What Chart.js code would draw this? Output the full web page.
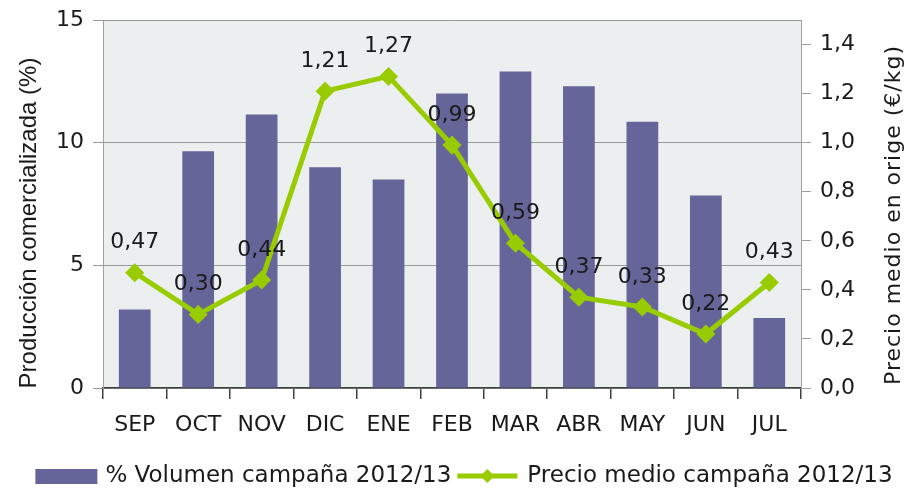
<!DOCTYPE html>
<html>
<head>
<meta charset="utf-8">
<script src="https://cdn.jsdelivr.net/npm/chart.js@4.4.0/dist/chart.umd.min.js"></script>
<style>
  html, body { margin: 0; padding: 0; background: #fff; }
  #wrap { width: 912px; height: 491px; }
</style>
</head>
<body>
<div id="wrap"><canvas id="chart" width="912" height="491"></canvas></div>
<script>
// Datos
const months = ['SEP', 'OCT', 'NOV', 'DIC', 'ENE', 'FEB', 'MAR', 'ABR', 'MAY', 'JUN', 'JUL'];
const volumen = [3.2, 9.65, 11.15, 9.0, 8.5, 12.0, 12.9, 12.3, 10.85, 7.85, 2.85];
const precio = [0.47, 0.30, 0.44, 1.21, 1.27, 0.99, 0.59, 0.37, 0.33, 0.22, 0.43];
const volumenLabel = '% Volumen campaña 2012/13';
const precioLabel = 'Precio medio campaña 2012/13';
const leftTitle = 'Producción comercializada (%)';
const rightTitle = 'Precio medio en orige (€/kg)';

const FONT = 'DejaVu Sans';
const TEXT = '#1a1a1a';
const BAR_COLOR = '#65659a';
const LINE_COLOR = '#99cc00';
const fmt = (v, d) => v.toFixed(d).replace('.', ',');

// Fondo del área de trazado
const plotBg = {
    id: 'plotBg',
    beforeDraw(chart) {
        const a = chart.chartArea;
        const ctx = chart.ctx;
        ctx.save();
        ctx.fillStyle = '#eceff0';
        ctx.fillRect(a.left, a.top, a.right - a.left, a.bottom - a.top);
        ctx.restore();
    }
};

// Etiquetas de precio sobre los puntos
const priceLabels = {
    id: 'priceLabels',
    afterDatasetsDraw(chart) {
        const meta = chart.getDatasetMeta(1);
        const ctx = chart.ctx;
        ctx.save();
        ctx.font = '22px "' + FONT + '"';
        ctx.fillStyle = TEXT;
        ctx.textAlign = 'center';
        ctx.textBaseline = 'middle';
        meta.data.forEach((pt, i) => {
            ctx.fillText(fmt(precio[i], 2), pt.x, pt.y - 30);
        });
        ctx.restore();
    }
};

// Títulos de ejes
const axisTitles = {
    id: 'axisTitles',
    afterDraw(chart) {
        const ctx = chart.ctx;
        ctx.save();
        ctx.fillStyle = TEXT;
        ctx.textAlign = 'center';
        ctx.textBaseline = 'middle';

        ctx.save();
        ctx.translate(29, 223);
        ctx.rotate(-Math.PI / 2);
        ctx.font = '24px "Liberation Sans"';
        ctx.fillText(leftTitle, 0, 0);
        ctx.restore();

        ctx.save();
        ctx.translate(894, 215);
        ctx.rotate(-Math.PI / 2);
        ctx.font = '22px "' + FONT + '"';
        ctx.letterSpacing = '1px';
        ctx.fillText(rightTitle, 0, 0);
        ctx.restore();

        ctx.restore();
    }
};

// Leyenda inferior
const bottomLegend = {
    id: 'bottomLegend',
    afterDraw(chart) {
        const ctx = chart.ctx;
        ctx.save();
        ctx.font = '23px "' + FONT + '"';
        const w1 = ctx.measureText(volumenLabel).width;
        const w2 = ctx.measureText(precioLabel).width;
        const total = 62 + 8 + w1 + 6 + 60 + 10 + w2;
        let x = 464 - total / 2;
        const y = 476;
        ctx.fillStyle = BAR_COLOR;
        ctx.fillRect(x, y - 7, 62, 15);
        x += 70;
        ctx.fillStyle = TEXT;
        ctx.textBaseline = 'middle';
        ctx.fillText(volumenLabel, x, y);
        x += w1 + 6;
        ctx.strokeStyle = LINE_COLOR;
        ctx.lineWidth = 5;
        ctx.beginPath();
        ctx.moveTo(x, y);
        ctx.lineTo(x + 60, y);
        ctx.stroke();
        ctx.fillStyle = LINE_COLOR;
        ctx.beginPath();
        ctx.moveTo(x + 30, y - 7);
        ctx.lineTo(x + 37, y);
        ctx.lineTo(x + 30, y + 7);
        ctx.lineTo(x + 23, y);
        ctx.closePath();
        ctx.fill();
        x += 70;
        ctx.fillStyle = TEXT;
        ctx.fillText(precioLabel, x, y);
        ctx.restore();
    }
};

Chart.defaults.font.family = FONT;
Chart.defaults.font.size = 22;
Chart.defaults.color = TEXT;

new Chart(document.getElementById('chart'), {
    data: {
        labels: months,
        datasets: [{
            type: 'bar',
            label: volumenLabel,
            data: volumen,
            backgroundColor: BAR_COLOR,
            barPercentage: 0.5,
            categoryPercentage: 1.0,
            yAxisID: 'y',
            order: 2
        }, {
            type: 'line',
            label: precioLabel,
            data: precio,
            borderColor: LINE_COLOR,
            backgroundColor: LINE_COLOR,
            borderWidth: 5,
            pointStyle: 'rectRot',
            pointRadius: 6,
            pointBackgroundColor: LINE_COLOR,
            pointBorderColor: LINE_COLOR,
            tension: 0,
            yAxisID: 'y1',
            order: 1
        }]
    },
    options: {
        responsive: false,
        animation: false,
        layout: { padding: { top: 20, left: 0, right: 0, bottom: 0 } },
        plugins: {
            legend: { display: false },
            tooltip: { enabled: false }
        },
        scales: {
            x: {
                offset: true,
                grid: {
                    offset: true,
                    drawOnChartArea: false,
                    tickLength: 11,
                    tickColor: '#404040',
                    lineWidth: 1.5
                },
                border: { color: '#404040', width: 1.5 },
                ticks: { padding: 13, color: TEXT, maxRotation: 0, autoSkip: false },
                afterFit(scale) {
                    scale.height = 103;
                    scale.paddingLeft = 0;
                    scale.paddingRight = 0;
                }
            },
            y: {
                position: 'left',
                min: 0,
                max: 15,
                ticks: { stepSize: 5, padding: 9, color: TEXT },
                grid: { color: '#999999', tickLength: 10, lineWidth: 1 },
                border: { color: '#a0a0a0' },
                afterFit(scale) {
                    scale.width = 103;
                    scale.paddingTop = 0;
                    scale.paddingBottom = 0;
                }
            },
            y1: {
                position: 'right',
                min: 0,
                max: 1.5,
                ticks: {
                    stepSize: 0.2,
                    includeBounds: false,
                    padding: 9,
                    color: TEXT,
                    callback: (v) => fmt(v, 1)
                },
                grid: { drawOnChartArea: false, color: '#a0a0a0', tickLength: 10 },
                border: { color: '#a0a0a0' },
                afterFit(scale) {
                    scale.width = 111;
                    scale.paddingTop = 0;
                    scale.paddingBottom = 0;
                }
            }
        }
    },
    plugins: [plotBg, priceLabels, axisTitles, bottomLegend]
});
</script>
</body>
</html>
